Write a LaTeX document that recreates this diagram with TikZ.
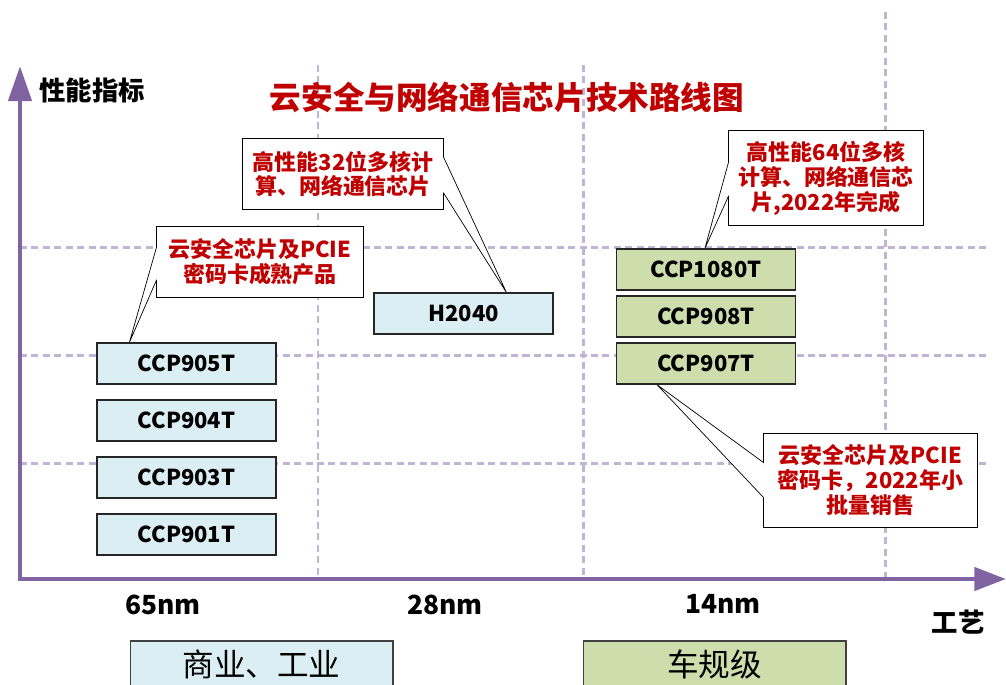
\documentclass[tikz,border=0pt]{standalone}
\usepackage{fontspec}
\setmainfont{Noto Sans CJK SC}
\usetikzlibrary{arrows.meta, calc}

\definecolor{axispurple}{RGB}{128,100,162}
\definecolor{gridlilac}{RGB}{194,180,214}
\definecolor{chipblue}{RGB}{218,238,243}
\definecolor{chipgreen}{RGB}{206,221,172}
\definecolor{notered}{RGB}{192,0,0}

\begin{document}
\begin{tikzpicture}[
  x = 0.02cm, y = -0.02cm,
  axis/.style = {
    draw = axispurple,
    line width = 2.8pt,
    line join = miter,
    {Triangle[length = 20pt, width = 13pt]}-{Triangle[length = 18pt, width = 13pt]},
  },
  grid line/.style = {
    draw = gridlilac,
    line width = 1.7pt,
    dash pattern = on 4pt off 2.5pt,
  },
  chip/.style = {
    shape = rectangle,
    draw = black!85,
    line width = 0.7pt,
    minimum width = 3.58cm,
    minimum height = 0.82cm,
    inner sep = 0pt,
    font = \fontsize{12.5}{15}\selectfont\bfseries,
  },
  chip blue/.style = { chip, fill = chipblue },
  chip green/.style = { chip, fill = chipgreen },
  note/.style = {
    shape = rectangle,
    fill = white,
    inner sep = 0pt,
    align = center,
    text = notered,
    font = \fontsize{12.5}{14.2}\selectfont\bfseries,
  },
  band/.style = {
    shape = rectangle,
    draw = black!75,
    line width = 0.6pt,
    minimum width = 5.26cm,
    minimum height = 0.92cm,
    inner sep = 0pt,
    font = \fontsize{18}{20}\selectfont,
  },
  label/.style = { font = \fontsize{15}{17}\selectfont\bfseries },
]
  \useasboundingbox (0, 0) rectangle (1006, 684);

  % grid
  \foreach \gx/\gtop in {318/65, 583/65, 885/12}
    \draw[grid line] (\gx, \gtop) -- (\gx, 579);
  \foreach \gy in {247, 355, 463}
    \draw[grid line] (20, \gy) -- (990, \gy);

  % axes
  \coordinate (ytip) at (20, 66);
  \coordinate (origin) at (20, 579);
  \coordinate (xtip) at (1006, 579);
  \draw[axis] (ytip) -- (origin) -- (xtip);

  \node[text = notered, font = \fontsize{18}{20}\selectfont\bfseries] (title) at (507, 97) {云安全与网络通信芯片技术路线图};
  \node[label] (perf) at (92, 90) {性能指标};
  \node[label] (process) at (958, 622) {工艺};

  \node[label] (n65) at (163, 605) {65nm};
  \node[label] (n28) at (445, 605) {28nm};
  \node[label] (n14) at (723, 604) {14nm};

  % chips
  \node[chip blue] (p905) at (186.5, 363.5) {CCP905T};
  \node[chip blue] (p904) at (186.5, 420.5) {CCP904T};
  \node[chip blue] (p903) at (186.5, 477.5) {CCP903T};
  \node[chip blue] (p901) at (186.5, 534.5) {CCP901T};
  \node[chip blue] (h2040) at (463.5, 313.5) {H2040};
  \node[chip green] (p1080) at (706, 269.5) {CCP1080T};
  \node[chip green] (p908) at (706, 316.5) {CCP908T};
  \node[chip green] (p907) at (706, 363.5) {CCP907T};

  % callouts
  \node[note, minimum width = 4.12cm, minimum height = 1.4cm] (noteA) at (260, 262) {云安全芯片及PCIE\\密码卡成熟产品};
  \draw[fill = white] ($(noteA.north west) + (0, 20)$) -- ($(p905.north west) + (33, 0)$) -- ($(noteA.north west) + (0, 53)$);
  \draw ($(noteA.north west) + (0, 20)$) -- (noteA.north west) -- (noteA.north east) -- (noteA.south east) -- (noteA.south west) -- ($(noteA.north west) + (0, 53)$);

  \node[note, minimum width = 4cm, minimum height = 1.4cm] (noteB) at (343, 174) {高性能32位多核计\\算、网络通信芯片};
  \draw[fill = white] ($(noteB.north east) + (0, 18)$) -- ($(h2040.north west) + (133, 0)$) -- ($(noteB.north east) + (0, 54)$);
  \draw ($(noteB.north east) + (0, 18)$) -- (noteB.north east) -- (noteB.north west) -- (noteB.south west) -- (noteB.south east) -- ($(noteB.north east) + (0, 54)$);

  \node[note, minimum width = 3.88cm, minimum height = 1.88cm] (noteC) at (826, 178) {高性能64位多核\\计算、网络通信芯\\片,2022年完成};
  \draw[fill = white] ($(noteC.north west) + (0, 31)$) -- ($(p1080.north west) + (89, 0)$) -- ($(noteC.north west) + (0, 65)$);
  \draw ($(noteC.north west) + (0, 31)$) -- (noteC.north west) -- (noteC.north east) -- (noteC.south east) -- (noteC.south west) -- ($(noteC.north west) + (0, 65)$);

  \node[note, minimum width = 4.26cm, minimum height = 1.86cm] (noteD) at (870.5, 480.5) {云安全芯片及PCIE\\密码卡，2022年小\\批量销售};
  \draw[fill = white] ($(noteD.north west) + (0, 29)$) -- ($(p907.south west) + (41, 0)$) -- ($(noteD.north west) + (0, 64)$);
  \draw ($(noteD.north west) + (0, 29)$) -- (noteD.north west) -- (noteD.north east) -- (noteD.south east) -- (noteD.south west) -- ($(noteD.north west) + (0, 64)$);

  % grades
  \node[band, fill = chipblue] (commercial) at (261.5, 664) {商业、工业};
  \node[band, fill = chipgreen] (automotive) at (714.5, 664) {车规级};
\end{tikzpicture}
\end{document}
